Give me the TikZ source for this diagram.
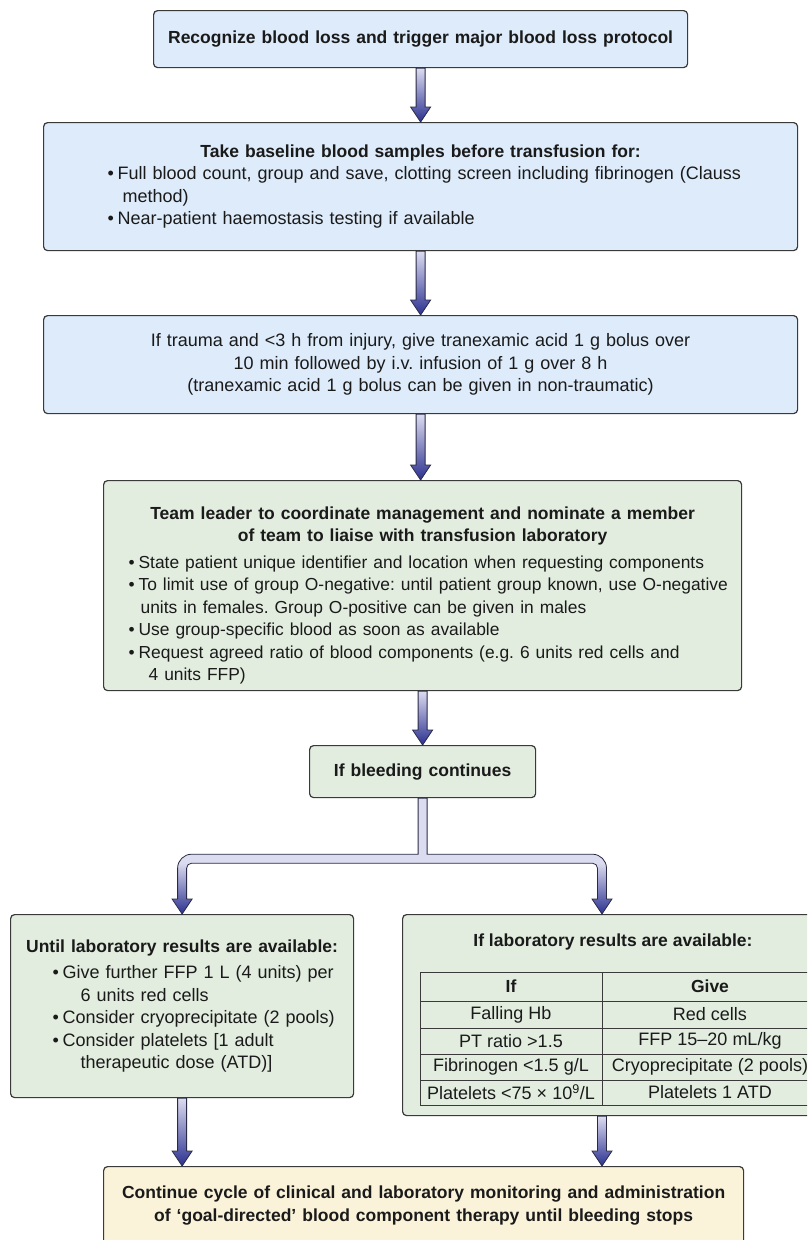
\documentclass[tikz,border=0pt]{standalone}
\usepackage{fontspec}
\setmainfont{Liberation Sans}
\usetikzlibrary{calc}
\definecolor{bluefill}{HTML}{DDEBFA}
\definecolor{greenfill}{HTML}{E2EDDF}
\definecolor{yellowfill}{HTML}{FAF3DA}
\definecolor{boxline}{HTML}{3A3A3A}
\definecolor{arrtop}{HTML}{DCDCF0}
\definecolor{arrbot}{HTML}{2B3190}
\definecolor{arrline}{HTML}{2A2A44}
\definecolor{txt}{HTML}{1A1A1A}
\pgfdeclareverticalshading{branchshade}{100bp}{color(0bp)=(arrbot); color(25bp)=(arrbot); color(47bp)=(arrtop); color(100bp)=(arrtop)}
% #1 hang indent, #2 bullet box width, #3 text
\newcommand{\bitem}[3]{\par\hangindent=#1\hangafter=1\noindent\makebox[#2][l]{•}#3}
\newcommand{\flowarrow}[2]{%
  \shade[top color=arrtop, bottom color=arrbot, draw=arrline, line width=0.8pt]
  let \p1=(#1), \p2=(#2) in
  (\x1-4.5pt,\y1) -- (\x1+4.5pt,\y1) -- (\x1+4.5pt,\y2+15pt) -- (\x1+10pt,\y2+15pt)
  -- (\x1,\y2) -- (\x1-10pt,\y2+15pt) -- (\x1-4.5pt,\y2+15pt) -- cycle;}
\newcommand{\ttl}{\fontsize{17.5pt}{22.5pt}\selectfont\bfseries}
\frenchspacing
\begin{document}
\begin{tikzpicture}[x=1pt,y=1pt,
  box/.style={draw=boxline, line width=1.2pt, rounded corners=4pt, anchor=north west,
    inner xsep=0pt, inner ysep=0pt, text=txt, font=\fontsize{18pt}{22.5pt}\selectfont\frenchspacing},
  plain/.style={text=txt, inner sep=0pt, font=\fontsize{18pt}{22.5pt}\selectfont},
  tabline/.style={draw=boxline, line width=1pt}]
\useasboundingbox (0,0) rectangle (807,-1240);
\clip (0,0) rectangle (807,-1240);

\node[box, fill=bluefill, text width=534pt, minimum height=57pt, align=center] (b1) at (153,-10)
  {\ttl Recognize blood loss and trigger major blood loss protocol};

\node[box, fill=bluefill, text width=754pt, minimum height=128pt] (b2) at (43,-122)
  {{\centering\ttl Take baseline blood samples before transfusion for:\par}
   \raggedright\leftskip=64pt
   \bitem{15pt}{10pt}{Full blood count, group and save, clotting screen including fibrinogen (Clauss\newline method)}
   \bitem{15pt}{10pt}{Near-patient haemostasis testing if available}\par};

\node[box, fill=bluefill, text width=754pt, minimum height=98pt, align=center] (b3) at (43,-315)
  {If trauma and <3 h from injury, give tranexamic acid 1 g bolus over\\
   10 min followed by i.v. infusion of 1 g over 8 h\\
   (tranexamic acid 1 g bolus can be given in non-traumatic)};

\node[box, fill=greenfill, text width=638pt, minimum height=210pt] (b4) at (103,-480)
  {{\centering\ttl Team leader to coordinate management and nominate a member\\
    of team to liaise with transfusion laboratory\par}
   \vspace{4pt}\fontsize{17.4pt}{22.5pt}\selectfont\raggedright\leftskip=25pt\rightskip=-40pt plus 1fil
   \bitem{12pt}{10pt}{State patient unique identifier and location when requesting components}
   \bitem{12pt}{10pt}{To limit use of group O-negative: until patient group known, use O-negative\newline units in females. Group O-positive can be given in males}
   \bitem{12pt}{10pt}{Use group-specific blood as soon as available}
   \bitem{12pt}{10pt}{Request agreed ratio of blood components (e.g. 6 units red cells and\newline\hspace*{8pt}4 units FFP)}\par
   \vspace{-20pt}};

\node[box, fill=greenfill, text width=226pt, minimum height=52pt, align=center] (b5) at (309,-745)
  {\ttl If bleeding continues};

\node[box, fill=greenfill, text width=343pt, minimum height=183pt] (b7) at (10,-914)
  {{\centering\ttl Until laboratory results are available:\par}
   \vspace{4pt}\raggedright\leftskip=42pt
   \bitem{28pt}{10pt}{Give further FFP 1 L (4 units) per\newline 6 units red cells}
   \bitem{28pt}{10pt}{Consider cryoprecipitate (2 pools)}
   \bitem{28pt}{10pt}{Consider platelets [1 adult\newline therapeutic dose (ATD)]}\par};

\node[box, fill=greenfill, minimum width=434pt, minimum height=201pt] (b8) at (402,-914) {};
\node[plain, font=\ttl] (t8) at (613,-942) {If laboratory results are available:};

% table
\coordinate (tabmid) at (602,-972);
\draw[tabline] (420,-972) rectangle (818,-1105);
\foreach \yy in {1001,1028,1054,1080} \draw[tabline] (420,-\yy) -- (818,-\yy);
\draw[tabline] (602,-972) -- (602,-1105);
\node[plain, font=\ttl] (h1) at (511,-986.5) {If};
\node[plain, font=\ttl] (h2) at (710,-986.5) {Give};
\node[plain] (r1a) at (511,-1014.5) {Falling Hb};
\node[plain] (r1b) at (710,-1014.5) {Red cells};
\node[plain] (r2a) at (511,-1041) {PT ratio >1.5};
\node[plain] (r2b) at (710,-1041) {FFP 15–20 mL/kg};
\node[plain] (r3a) at (511,-1067) {Fibrinogen <1.5 g/L};
\node[plain] (r3b) at (710,-1067) {Cryoprecipitate (2 pools)};
\node[plain] (r4a) at (511,-1092.5) {Platelets <75 × 10\textsuperscript{9}/L};
\node[plain] (r4b) at (710,-1092.5) {Platelets 1 ATD};

\node[box, fill=yellowfill, text width=640pt, minimum height=78pt, align=center] (b9) at (103,-1166)
  {\ttl Continue cycle of clinical and laboratory monitoring and administration\\
   of ‘goal-directed’ blood component therapy until bleeding stops};

% arrows
\flowarrow{b1.south}{b2.north}
\flowarrow{b2.south}{b3.north}
\flowarrow{b3.south}{b4.north}
\flowarrow{b4.south}{b5.north}
\flowarrow{b7.south}{b9.north}
\flowarrow{b8.south -| tabmid}{b9.north}

\shade[shading=branchshade, draw=arrline, line width=0.8pt]
  let \p0=(b5.south), \p1=(b7.north), \p2=(b8.north -| tabmid) in
  (\x0-4.5pt,\y0) -- (\x0-4.5pt,\y0-56pt) -- (\x1+9.5pt,\y0-56pt)
  arc[start angle=90,end angle=180,radius=14pt]
  -- (\x1-4.5pt,\y1+15pt) -- (\x1-10pt,\y1+15pt) -- (\x1,\y1) -- (\x1+10pt,\y1+15pt)
  -- (\x1+4.5pt,\y1+15pt) -- (\x1+4.5pt,\y0-70pt)
  arc[start angle=180,end angle=90,radius=5pt]
  -- (\x2-9.5pt,\y0-65pt)
  arc[start angle=90,end angle=0,radius=5pt]
  -- (\x2-4.5pt,\y2+15pt) -- (\x2-10pt,\y2+15pt) -- (\x2,\y2) -- (\x2+10pt,\y2+15pt)
  -- (\x2+4.5pt,\y2+15pt) -- (\x2+4.5pt,\y0-70pt)
  arc[start angle=0,end angle=90,radius=14pt]
  -- (\x0+4.5pt,\y0-56pt) -- (\x0+4.5pt,\y0) -- cycle;
\end{tikzpicture}
\end{document}
